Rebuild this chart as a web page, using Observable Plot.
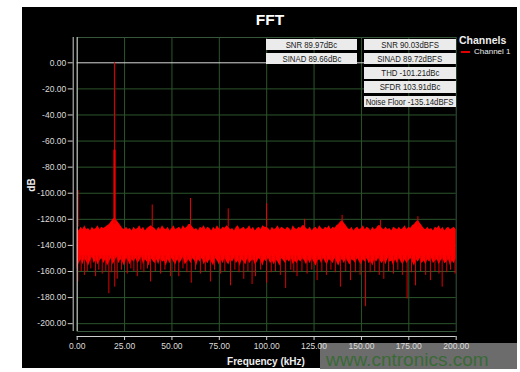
<!DOCTYPE html>
<html>
<head>
<meta charset="utf-8">
<script src="https://cdn.jsdelivr.net/npm/d3@7"></script>
<script src="https://cdn.jsdelivr.net/npm/@observablehq/plot@0.6"></script>
<style>
  html, body { margin: 0; padding: 0; background: #fff; }
  #wrap { position: relative; width: 520px; height: 372px; overflow: hidden; font-family: "Liberation Sans", Arial, sans-serif; }
  #bg { position: absolute; left: 22px; top: 7px; width: 495px; height: 361px; background: #000; }
  #wmbox { position: absolute; left: 320px; top: 343px; width: 197px; height: 26px; background: #6c6c6c; }
  #chart { position: absolute; left: 0; top: 0; }
  .txt { position: absolute; white-space: nowrap; }
  #title { left: 0; width: 540px; text-align: center; top: 11.7px; font-size: 15.5px; line-height: 16px; font-weight: bold; color: #fff; }
  #ylab { left: 31.7px; top: 185px; font-size: 10px; line-height: 10px; font-weight: bold; color: #eee; transform: translate(-50%, -50%) rotate(-90deg); }
  #xlab { left: 266px; top: 357px; font-size: 10px; line-height: 10px; font-weight: bold; color: #eee; transform: translateX(-50%); }
  .stat { position: absolute; height: 11.5px; background: #ebebeb; color: #1a1a1a; font-size: 9.5px; line-height: 11.5px; display: flex; justify-content: center; align-items: center; overflow: visible; }
  .stat span { display: block; flex: none; transform: scaleX(0.82); transform-origin: center; white-space: nowrap; }
  #legTitle { left: 459px; top: 34.8px; font-size: 10.5px; line-height: 10.5px; font-weight: bold; color: #eee; }
  #legSwatch { position: absolute; left: 461px; top: 51.3px; width: 9px; height: 2px; background: #e00000; }
  #legLabel { left: 474px; top: 48.2px; font-size: 8px; line-height: 8px; color: #eee; }
  #wm { left: 326px; top: 354px; font-size: 19px; line-height: 11px; color: #3a6a36; }
</style>
</head>
<body>
<div id="wrap">
  <div id="bg"></div>
  <div id="wmbox"></div>
  <div id="chart"></div>
</div>
<script>
// ---------------- data ----------------
const chartTitle = "FFT";
const xLabel = "Frequency (kHz)";
const yLabel = "dB";
const legendTitle = "Channels";
const seriesName = "Channel 1";
const watermark = "www.cntronics.com";

const xTicks = [0, 25, 50, 75, 100, 125, 150, 175, 200];
const yTicks = [0, -20, -40, -60, -80, -100, -120, -140, -160, -180, -200];

const statsLeft = ["SNR 89.97dBc", "SINAD 89.66dBc"];
const statsRight = ["SNR 90.03dBFS", "SINAD 89.72dBFS", "THD -101.21dBc", "SFDR 103.91dBc", "Noise Floor -135.14dBFS"];

// noise band, one bin per kHz (0..200 kHz): upper and lower edge in dB
const noiseTop = [
  -127,-129,-126,-128,-125,-128,-127,-129,-126,-128,
  -127,-125,-128,-126,-127,-126,-125,-124,-122,-120,
  -119,-121,-123,-125,-127,-128,-126,-128,-127,-129,
  -126,-128,-127,-125,-128,-126,-129,-127,-126,-125,
  -126,-127,-129,-126,-128,-125,-127,-128,-126,-129,
  -127,-125,-128,-127,-126,-128,-125,-127,-126,-124,
  -124,-126,-128,-127,-129,-126,-127,-125,-128,-126,
  -127,-129,-126,-128,-125,-127,-128,-126,-127,-125,
  -126,-128,-127,-129,-126,-125,-128,-127,-126,-128,
  -127,-125,-128,-126,-129,-127,-126,-128,-125,-126,
  -126,-127,-129,-126,-128,-127,-125,-128,-126,-127,
  -128,-126,-127,-129,-125,-127,-128,-126,-127,-125,
  -125,-127,-128,-126,-129,-127,-126,-128,-125,-127,
  -128,-126,-127,-125,-128,-126,-127,-125,-124,-122,
  -121,-123,-125,-127,-128,-126,-129,-127,-126,-128,
  -127,-125,-128,-126,-127,-129,-126,-128,-127,-125,
  -125,-127,-128,-126,-128,-127,-129,-126,-127,-128,
  -126,-128,-127,-125,-128,-126,-127,-125,-124,-122,
  -121,-123,-125,-127,-128,-126,-128,-127,-129,-126,
  -127,-125,-128,-126,-129,-127,-126,-128,-127,-126,
  -128
];
const noiseBottom = [
  -158,-154,-151,-155,-150,-153,-156,-152,-149,-154,
  -151,-155,-152,-150,-154,-151,-156,-153,-150,-155,
  -152,-149,-154,-151,-153,-156,-150,-152,-155,-151,
  -153,-150,-154,-152,-149,-155,-151,-153,-156,-150,
  -152,-154,-151,-155,-150,-153,-152,-156,-151,-154,
  -150,-153,-155,-151,-154,-152,-149,-155,-153,-151,
  -154,-150,-152,-156,-151,-153,-150,-155,-152,-154,
  -151,-153,-156,-150,-152,-155,-151,-154,-150,-153,
  -155,-151,-153,-150,-154,-152,-156,-151,-153,-155,
  -150,-154,-152,-151,-155,-153,-150,-152,-156,-151,
  -153,-150,-154,-152,-155,-151,-153,-156,-150,-152,
  -154,-151,-153,-150,-155,-152,-154,-151,-153,-150,
  -152,-155,-151,-154,-150,-153,-156,-152,-151,-154,
  -150,-153,-155,-151,-152,-154,-150,-153,-156,-152,
  -151,-154,-150,-153,-155,-151,-152,-154,-150,-153,
  -155,-151,-153,-150,-154,-152,-156,-151,-153,-150,
  -152,-154,-151,-155,-150,-153,-152,-156,-151,-154,
  -150,-153,-155,-151,-154,-152,-150,-153,-156,-151,
  -153,-150,-154,-152,-155,-151,-153,-150,-154,-152,
  -151,-155,-152,-150,-154,-153,-151,-156,-152,-154,
  -150
];

// deep downward noise spikes
const dropFreq = [0.3,2.1,3.8,5.3,7.2,9.7,11.4,13.2,15.1,16.7,18.2,19.8,21.1,23.4,26.4,28.3,29.9,31.7,33.6,35.2,37.1,38.7,41.2,44.0,46.3,49.2,51.5,53.6,55.8,57.9,60.2,62.4,65.0,67.6,70.3,72.5,75.6,77.9,80.9,83.2,85.4,87.9,90.1,92.3,94.1,96.8,99.9,102.4,104.6,107.2,110.0,112.7,114.3,116.0,118.6,121.3,123.8,126.6,129.1,131.5,133.9,136.2,138.9,141.7,144.2,146.8,149.3,152.1,154.6,157.0,159.4,161.8,164.3,166.9,169.2,171.6,174.1,176.4,178.5,181.2,183.9,186.4,188.8,190.9,192.6,195.0,197.0,199.4];
const dropLevel = [-168,-160,-163,-160,-158,-164,-159,-162,-160,-177,-161,-172,-166,-159,-162,-158,-160,-164,-159,-161,-158,-168,-160,-162,-159,-164,-160,-164,-158,-161,-169,-159,-162,-160,-168,-159,-162,-160,-171,-159,-161,-166,-160,-170,-164,-159,-169,-161,-160,-163,-173,-159,-161,-164,-160,-162,-159,-167,-160,-163,-159,-161,-172,-160,-167,-161,-163,-187,-161,-160,-163,-166,-160,-162,-159,-163,-181,-161,-171,-160,-163,-167,-160,-162,-172,-161,-159,-162];

// harmonics / spurs rising above the noise
const spurFreq = [0.4, 39.6, 59.8, 79.7, 99.9, 120.0, 139.8, 160.0, 179.8];
const spurLevel = [-98, -109, -104, -112, -108, -120, -117, -121, -118];

// fundamental tone
const toneFreq = [19.7];
const tonePeak = [0];
const toneShoulder = [-67];

// ---------------- build ----------------
const band = noiseTop.map((hi, i) => ({f: i, hi, lo: noiseBottom[i]}));
const drops = dropFreq.map((f, i) => ({f, d: dropLevel[i]}));
const spurs = spurFreq.map((f, i) => ({f, p: spurLevel[i]}));
const tone = toneFreq.map((f, i) => ({f, p: tonePeak[i], s: toneShoulder[i]}));

const fmt = d => d.toFixed(2);
const gridColor = "#2c552c";
const yDomain = [-206, 19.4];

const plot = Plot.plot({
  width: 520,
  height: 372,
  marginLeft: 76.7,
  marginRight: 64.3,
  marginTop: 37,
  marginBottom: 41,
  style: {background: "transparent", color: "#dcdcdc", fontFamily: "Liberation Sans, Arial, sans-serif", fontSize: "8.5px", overflow: "visible"},
  x: {domain: [0, 200]},
  y: {domain: yDomain},
  marks: [
    Plot.gridX(xTicks.slice(1, -1), {stroke: gridColor, strokeOpacity: 1}),
    Plot.gridY(yTicks.slice(1), {stroke: gridColor, strokeOpacity: 1}),
    Plot.frame({stroke: "#36573a"}),
    Plot.ruleY([0], {stroke: "#d8d8d8"}),
    Plot.areaY(band, {x: "f", y1: "lo", y2: "hi", fill: "#ff0000", curve: "linear"}),
    Plot.ruleX(drops, {x: "f", y1: -148, y2: "d", stroke: "#dd0000", strokeWidth: 1}),
    Plot.ruleX(spurs, {x: "f", y1: -126, y2: "p", stroke: "#e80000", strokeWidth: 1}),
    Plot.ruleX(tone, {x: "f", y1: -124, y2: "p", stroke: "#d40000", strokeWidth: 1.2}),
    Plot.ruleX(tone, {x: "f", y1: -124, y2: "s", stroke: "#ee0000", strokeWidth: 2.2}),
    Plot.ruleX([0], {stroke: "#d0d0d0"}),
    Plot.ruleX([0], {dx: -4, stroke: "#d0d0d0"}),
    Plot.ruleY([yDomain[0]], {dy: 5, stroke: "#d0d0d0"}),
    Plot.axisY(yTicks, {tickFormat: fmt, tickSize: 5, tickPadding: 2, dx: -4, label: null, stroke: "#d0d0d0", fill: "#dcdcdc"}),
    Plot.axisX(xTicks, {tickFormat: fmt, tickSize: 4, tickPadding: 2, dy: 5, label: null, stroke: "#d0d0d0", fill: "#dcdcdc"})
  ]
});
document.getElementById("chart").appendChild(plot);

// ---------------- overlay texts ----------------
const wrap = document.getElementById("wrap");
function addText(id, text) {
  const d = document.createElement("div");
  d.className = "txt";
  d.id = id;
  d.textContent = text;
  wrap.appendChild(d);
  return d;
}
addText("title", chartTitle);
addText("ylab", yLabel);
addText("xlab", xLabel);
addText("legTitle", legendTitle);
const sw = document.createElement("div"); sw.id = "legSwatch"; wrap.appendChild(sw);
addText("legLabel", seriesName);
addText("wm", watermark);

const rowTop = [38.5, 52.7, 67.0, 81.2, 95.5];
function addStat(text, left, width, row) {
  const d = document.createElement("div");
  d.className = "stat";
  d.style.left = left + "px";
  d.style.width = width + "px";
  d.style.top = rowTop[row] + "px";
  const s = document.createElement("span");
  s.textContent = text;
  d.appendChild(s);
  wrap.appendChild(d);
}
statsLeft.forEach((t, i) => addStat(t, 266, 91, i));
statsRight.forEach((t, i) => addStat(t, 364, 92, i));
</script>
</body>
</html>
